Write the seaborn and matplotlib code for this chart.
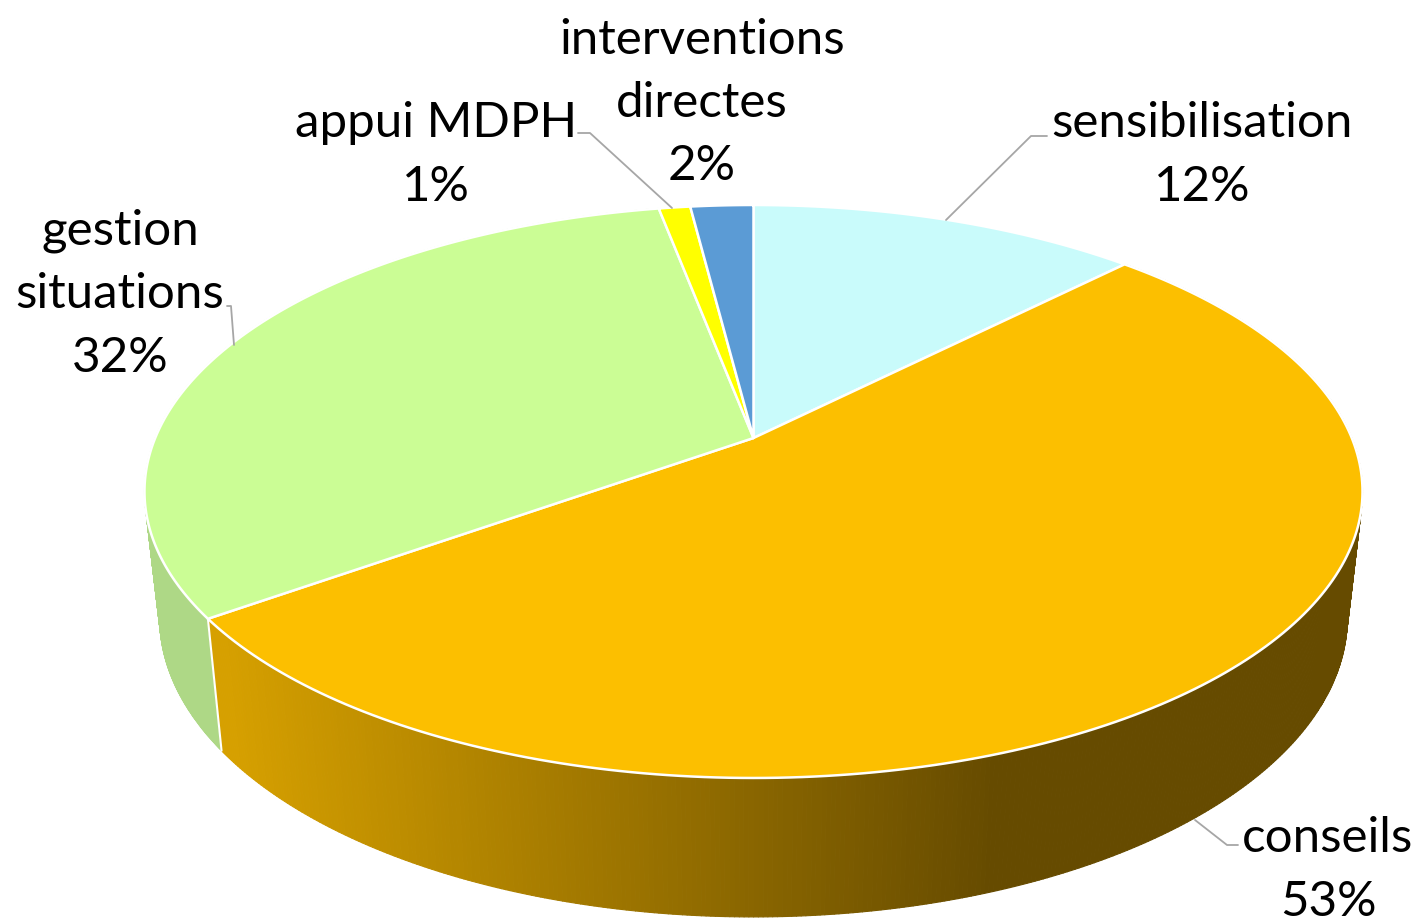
import numpy as np
import seaborn as sns
from matplotlib import pyplot as plt
from matplotlib.collections import PolyCollection

categories = ['sensibilisation', 'conseils', 'gestion\nsituations', 'appui MDPH', 'interventions\ndirectes']
values = [12.4, 52.7, 31.9, 1.0, 2.0]
colors = ['#C9FBFB', '#FCBF00', '#CBFD95', '#FFFF00', '#5B9BD5']
label_pos = [(1202, 155), (1328, 870), (120, 294), (436, 155), (702, 103)]

sns.set_theme(style='white')
plt.rcParams['font.family'] = ['Lato', 'DejaVu Sans']

fig = plt.figure(figsize=(14.22, 9.18), dpi=100)
ax = fig.add_axes([0, 0, 1, 1])
ax.set_xlim(0, 1422)
ax.set_ylim(918, 0)
ax.axis('off')

# the disc is seen in perspective, so the centre is not the middle of the ellipse
cx, cy = 753.5, 438
rx, ry, k = 598.3, 276.5, 0.1867


def top_face(theta):
    u, v = np.sin(theta), np.cos(theta)
    d = 1 + k * v
    return cx + rx * u / d, cy - ry * v / d


def bottom_face(theta):
    x, y = top_face(theta)
    return cx + 0.975 * (x - cx), 562 + 1.044 * (y - cy)


edges = np.radians(np.cumsum([0] + values) * 3.6)

# side walls first, the top face hides what is behind
shades = sns.blend_palette(['#D6A000', '#664B00'], 400)
for i in [2, 1]:
    t = np.linspace(edges[i], edges[i + 1], 500)
    x1, y1 = top_face(t)
    x2, y2 = bottom_face(t)
    quads = []
    quad_colors = []
    for j in range(len(t) - 1):
        quads.append([(x1[j], y1[j]), (x1[j + 1], y1[j + 1]), (x2[j + 1], y2[j + 1]), (x2[j], y2[j])])
        if i == 1:
            pos = int(np.clip((x1[j] - 221) / (1000 - 221) * 399, 0, 399))
            quad_colors.append(shades[pos])
        else:
            quad_colors.append('#AED886')
    ax.add_collection(PolyCollection(quads, facecolors=quad_colors, edgecolors=quad_colors, linewidths=0.8, zorder=1))

# seam between the two visible walls
sx1, sy1 = top_face(edges[2])
sx2, sy2 = bottom_face(edges[2])
ax.plot([sx1, sx2], [sy1, sy2], color='white', lw=1.5, zorder=2)

for i, c in enumerate(colors):
    t = np.linspace(edges[i], edges[i + 1], 200)
    x, y = top_face(t)
    pts = np.column_stack([np.r_[cx, x], np.r_[cy, y]])
    ax.fill(pts[:, 0], pts[:, 1], facecolor=c, edgecolor='white', lw=1.8, joinstyle='round', zorder=3)

# leader lines
leaders = [
    ([1047, 1031, 946], [136, 136, 220]),
    ([1238, 1227, 1195], [845, 845, 820]),
    ([227, 231, 234], [306, 306, 345]),
    ([578, 590, 672], [133, 133, 208]),
]
for lx, ly in leaders:
    ax.plot(lx, ly, color='#A6A6A6', lw=1.3, zorder=4)

for name, val, (tx, ty) in zip(categories, values, label_pos):
    ax.text(tx, ty, f'{name}\n{round(val)}%', ha='center', va='center', fontsize=35.5,
            linespacing=1.54, color='black', zorder=5)

plt.savefig('out.png', dpi=100)
